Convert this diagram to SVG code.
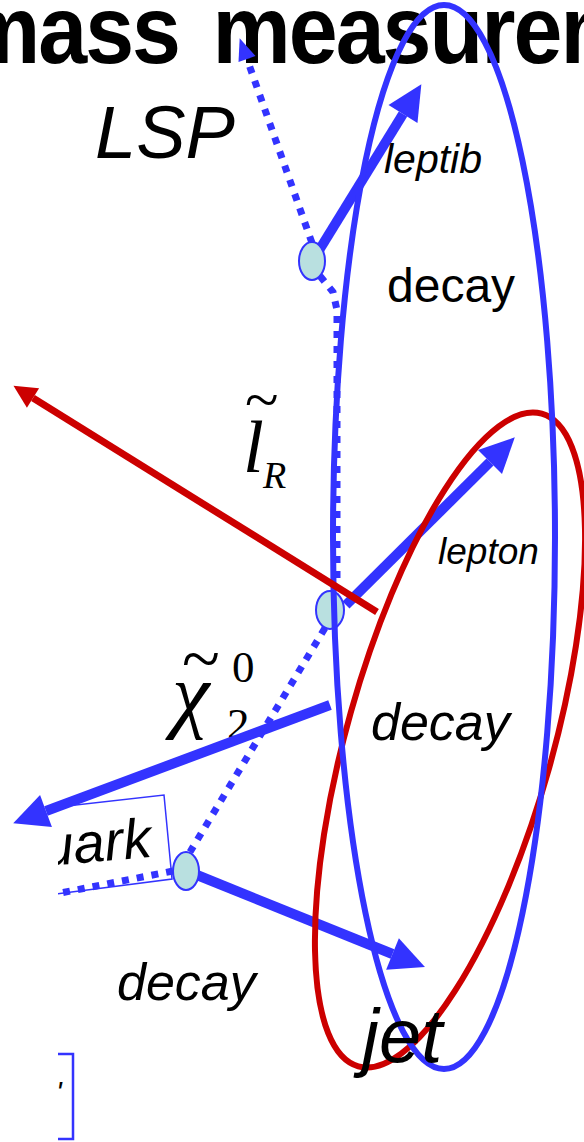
<svg xmlns="http://www.w3.org/2000/svg" width="584" height="1142" viewBox="0 0 584 1142">
<style>
.lbl{font-family:"Liberation Sans",Arial,sans-serif;fill:#000}
.it{font-style:italic}
.math{font-family:"Liberation Serif","Times New Roman",serif;fill:#000}
.dot{fill:none;stroke:#3333ff;stroke-width:7;stroke-dasharray:7 8}
.arr{fill:none;stroke:#3333ff;stroke-width:10}
.node{fill:#b9e0e0;stroke:#3333ff;stroke-width:2}
</style>
<defs>
<marker id="hb" markerUnits="userSpaceOnUse" markerWidth="35" markerHeight="34" viewBox="0 0 35 34" refX="0" refY="17" orient="auto" overflow="visible"><path d="M0,0 L35,17 L0,34 Z" fill="#3333ff"/></marker>
<marker id="hr" markerUnits="userSpaceOnUse" markerWidth="23" markerHeight="23" viewBox="0 0 23 23" refX="0" refY="11.5" orient="auto" overflow="visible"><path d="M0,0 L23,11.5 L0,23 Z" fill="#cc0000"/></marker>
<marker id="hd" markerUnits="userSpaceOnUse" markerWidth="22" markerHeight="18" viewBox="0 0 22 18" refX="0" refY="9" orient="auto" overflow="visible"><path d="M0,0 L22,9 L0,18 Z" fill="#3333ff"/></marker>
<clipPath id="cl"><rect x="58" y="760" width="300" height="382"/></clipPath>
</defs>

<g id="title"><text class="lbl" font-weight="bold" font-size="88" letter-spacing="-2" transform="translate(-38,63) scale(1,1.09)">mass <tspan dx="11">measurement</tspan></text></g>

<g id="math-labels">
<text class="math" font-size="62" x="245" y="420">~</text>
<text class="math" font-style="italic" font-size="75" x="243" y="472">l</text>
<text class="math" font-style="italic" font-size="38" x="263" y="488">R</text>
<text class="math" font-size="70" x="182" y="682">~</text>
<text class="math" font-style="italic" font-size="85" x="172" y="722">χ</text>
<text class="math" font-size="45" x="232" y="682">0</text>
<text class="math" font-size="45" x="227" y="739">2</text>
</g>

<g id="quark-box" clip-path="url(#cl)">
<polygon points="40,809 164,795 172,879 40,896" fill="none" stroke="#3333ff" stroke-width="1.5"/>
<text class="lbl it" font-size="56" transform="translate(13,869) rotate(-5)">quark</text>
</g>
<g id="bracket" clip-path="url(#cl)">
<path d="M50,1054 H73 V1139 H50" fill="none" stroke="#3333ff" stroke-width="2.5"/>
<text class="lbl it" font-size="30" x="56" y="1102">'</text>
</g>

<g id="connectors">
<polyline class="dot" points="312,243 247,59" marker-end="url(#hd)"/>
<polyline class="dot" points="320,276 333,292 337,310 337,590"/>
<line class="dot" x1="325" y1="628" x2="190" y2="852"/>
<line class="dot" x1="173" y1="871" x2="50" y2="895" clip-path="url(#cl)"/>
<line class="arr" x1="318" y1="252" x2="403" y2="114" marker-end="url(#hb)"/>
<line class="arr" x1="346" y1="605" x2="490" y2="462" marker-end="url(#hb)"/>
<line class="arr" x1="330" y1="705" x2="46" y2="811" marker-end="url(#hb)"/>
<line class="arr" x1="192" y1="873" x2="392.5" y2="954" marker-end="url(#hb)"/>
</g>

<g id="node-slepton"><ellipse class="node" cx="312" cy="261" rx="13" ry="19"/></g>
<g id="node-neutralino"><ellipse class="node" cx="330" cy="610" rx="14" ry="19"/></g>
<g id="node-squark"><ellipse class="node" cx="186" cy="871" rx="13" ry="19"/></g>

<g id="ellipse-red"><ellipse cx="450" cy="740" rx="103" ry="339" transform="rotate(15.7 450 740)" fill="none" stroke="#cc0000" stroke-width="6"/></g>
<g id="ellipse-blue"><ellipse cx="444" cy="537" rx="111" ry="532" fill="none" stroke="#3333ff" stroke-width="6"/></g>

<g id="red-arrow"><line x1="377" y1="612" x2="33" y2="398" stroke="#cc0000" stroke-width="7" marker-end="url(#hr)"/></g>

<g id="labels">
<text class="lbl it" font-size="74" x="95" y="158">LSP</text>
<text class="lbl it" font-size="41" x="384" y="173">leptib</text>
<text class="lbl" font-size="48" x="387" y="302">decay</text>
<text class="lbl it" font-size="37" x="438" y="564">lepton</text>
<text class="lbl it" font-size="52" x="371" y="740">decay</text>
<text class="lbl it" font-size="52" x="117" y="1000">decay</text>
<text class="lbl it" font-size="76" x="362" y="1062">jet</text>
</g>
</svg>
